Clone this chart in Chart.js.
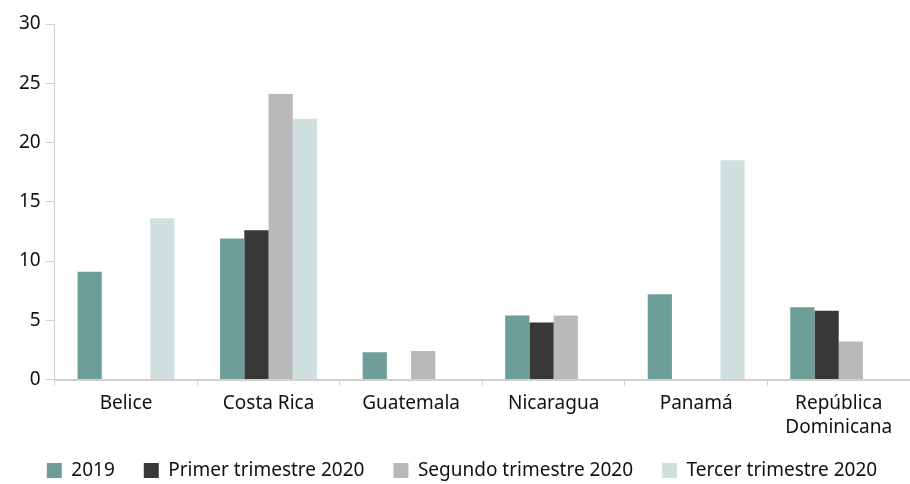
<!DOCTYPE html>
<html>
<head>
<meta charset="utf-8">
<script src="https://cdn.jsdelivr.net/npm/chart.js@4.4.0/dist/chart.umd.min.js"></script>
<style>
  html, body { margin: 0; padding: 0; background: #fff; }
  #wrap { width: 910px; height: 484px; }
</style>
</head>
<body>
<div id="wrap"><canvas id="chart"></canvas></div>
<script>
// categories and series
const countries = ["Belice", "Costa Rica", "Guatemala", "Nicaragua", "Panamá", ["República", "Dominicana"]];
const seriesNames = ["2019", "Primer trimestre 2020", "Segundo trimestre 2020", "Tercer trimestre 2020"];
const v2019 = [9.1, 11.9, 2.3, 5.4, 7.2, 6.1];
const vQ1 = [null, 12.6, null, 4.8, null, 5.8];
const vQ2 = [null, 24.1, 2.4, 5.4, null, 3.2];
const vQ3 = [13.6, 22.0, null, null, 18.5, null];
const yTicks = [0, 5, 10, 15, 20, 25, 30];

const colors = ["#6d9e98", "#383838", "#b9b9b9", "#d0e0df"];
const font = "'Noto Sans', sans-serif";

// legend: wide gaps between items but a short box, items nudged up
const legendHeight = {
    id: "legendHeight",
    beforeInit(chart) {
        const fit = chart.legend.fit;
        chart.legend.fit = function () {
            fit.call(this);
            this.height = 39;
        };
    },
    afterLayout(chart) {
        chart.legend.top -= 13;
    }
};

const ctx = document.getElementById("chart").getContext("2d");
new Chart(ctx, {
    type: "bar",
    data: {
        labels: countries,
        datasets: [v2019, vQ1, vQ2, vQ3].map((d, i) => ({
            label: seriesNames[i],
            data: d,
            backgroundColor: colors[i],
            categoryPercentage: 0.68,
            barPercentage: 1.0
        }))
    },
    options: {
        responsive: true,
        maintainAspectRatio: false,
        animation: false,
        layout: { padding: { left: 14, right: 0, top: 24, bottom: 0 } },
        plugins: {
            tooltip: { enabled: false },
            legend: {
                position: "bottom",
                labels: {
                    boxWidth: 15,
                    boxHeight: 15,
                    padding: 29,
                    color: "#111",
                    font: { family: font, size: 19 }
                }
            }
        },
        scales: {
            x: {
                grid: { display: true, drawOnChartArea: false, offset: true, tickLength: 6, color: "#d0d0d0" },
                border: { color: "#d0d0d0", width: 2 },
                ticks: { color: "#111", font: { family: font, size: 19, lineHeight: 1.25 }, maxRotation: 0, padding: 6 }
            },
            y: {
                min: 0,
                max: 30,
                afterBuildTicks: axis => { axis.ticks = yTicks.map(v => ({ value: v })); },
                grid: { display: true, drawOnChartArea: false, tickLength: 9, color: "#d0d0d0" },
                border: { color: "#d0d0d0", width: 1 },
                ticks: { color: "#111", font: { family: font, size: 19 }, padding: 5 }
            }
        }
    },
    plugins: [legendHeight]
});
</script>
</body>
</html>
